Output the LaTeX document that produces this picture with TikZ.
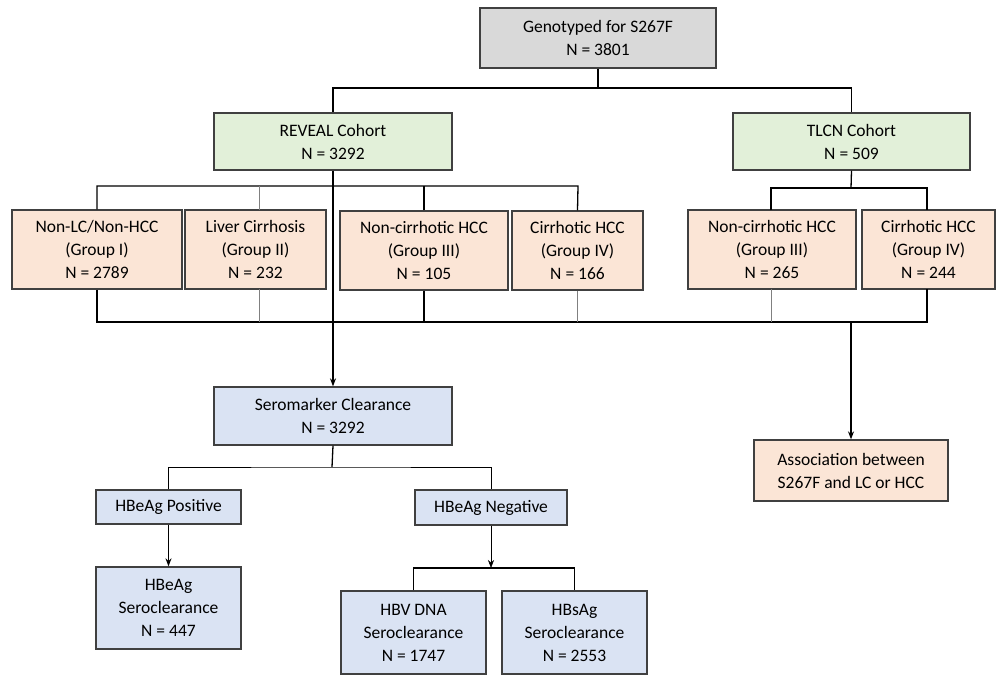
\documentclass[tikz,border=0pt]{standalone}
\usepackage{fontspec}
\setmainfont{Carlito}
\usetikzlibrary{arrows.meta}
\definecolor{cgray}{HTML}{D9D9D9}
\definecolor{cgreen}{HTML}{E2F0D9}
\definecolor{cpink}{HTML}{FBE5D6}
\definecolor{cblue}{HTML}{DAE3F3}
\definecolor{cline}{HTML}{404040}
\begin{document}
\begin{tikzpicture}[x=1pt,y=-1pt,
 box/.style={draw=cline,line width=1.3pt,align=center,inner sep=0pt,font=\fontsize{17.5}{23}\selectfont},
 ln/.style={line width=1.3pt,black},
 thin/.style={line width=0.5pt,gray},
 arr/.style={ln,-{Stealth[length=8pt,width=6pt]}}]
\useasboundingbox (0,0) rectangle (1000,680);
\newcommand\bx[6]{\node[box,fill=#5,minimum width=#3-#1,minimum height=#4-#2] (#6) at ({(#1+#3)/2},{(#2+#4)/2}) {};}
\newcommand\tx[2]{\node[box,draw=none] at (#1) {#2};}
\bx{480}{8}{716}{68}{cgray}{top}\tx{top}{Genotyped for S267F\\N = 3801}
\bx{214}{113}{452}{170}{cgreen}{rev}\tx{rev}{REVEAL Cohort\\N = 3292}
\bx{733}{113}{970}{170}{cgreen}{tlcn}\tx{tlcn}{TLCN Cohort\\N = 509}
\bx{12}{210}{182}{289}{cpink}{g1}\tx{g1}{Non-LC/Non-HCC\\(Group I)\\N = 2789}
\bx{185}{210}{326}{289}{cpink}{g2}\tx{g2}{Liver Cirrhosis\\(Group II)\\N = 232}
\bx{340}{211}{508}{290}{cpink}{g3}\tx{g3}{Non-cirrhotic HCC\\(Group III)\\N = 105}
\bx{512}{211}{643}{290}{cpink}{g4}\tx{g4}{Cirrhotic HCC\\(Group IV)\\N = 166}
\bx{688}{210}{856}{289}{cpink}{t3}\tx{t3}{Non-cirrhotic HCC\\(Group III)\\N = 265}
\bx{862}{210}{995}{289}{cpink}{t4}\tx{t4}{Cirrhotic HCC\\(Group IV)\\N = 244}
\bx{214}{387}{452}{445}{cblue}{sero}\tx{sero}{Seromarker Clearance\\N = 3292}
\bx{754}{440}{948}{501}{cpink}{assoc}\tx{assoc}{Association between\\S267F and LC or HCC}
\bx{96}{490}{241}{524}{cblue}{pos}\tx{pos}{HBeAg Positive}
\bx{415}{490}{567}{525}{cblue}{neg}\tx{neg}{HBeAg Negative}
\bx{96}{567}{241}{649}{cblue}{hbe}\tx{hbe}{HBeAg\\Seroclearance\\N = 447}
\bx{341}{591}{486}{674}{cblue}{dna}\tx{dna}{HBV DNA\\Seroclearance\\N = 1747}
\bx{502}{591}{647}{674}{cblue}{hbs}\tx{hbs}{HBsAg\\Seroclearance\\N = 2553}
\coordinate (tb) at (598,88);
\coordinate (rb) at (332,186);
\coordinate (tlb) at (851,188);
\coordinate (bb) at (851,322);
\coordinate (sb) at (332,467);
\coordinate (nb) at (491,568);
% top
\draw[ln] (top.south) -- (tb) -| (rev.north);
\draw[ln] (tb) -| (tlcn.north);
% REVEAL groups
\draw[ln] (g1.north) -- (97,186) -- (578,186) -- (g4.north);
\draw[thin] (259,210) -- (259,186);
\draw[ln] (g3.north) -- (424,186);
% TLCN groups
\draw[ln] (tlcn.south) -- (tlb);
\draw[ln] (771,210) -- (771,188) -- (927,188) -- (927,210);
% bottom bar
\draw[ln] (g1.south) -- (97,322) -- (927,322) -- (927,289);
\draw[thin] (259,289) -- (259,322);
\draw[ln] (g3.south) -- (424,322);
\draw[thin] (g4.south) -- (577.5,322);
\draw[thin] (771,289) -- (771,322);
\draw[arr] (bb) -- (assoc.north);
\draw[arr] (rev.south) -- (sero.north);
% sero branches
\draw[ln] (sero.south) -- (sb);
\draw[thin,black] (pos.north) |- (sb) -| (neg.north);
\draw[arr] (pos.south) -- (hbe.north);
\draw[thin,black,-{Stealth[length=8pt,width=6pt]}] (neg.south) -- (nb);
\draw[ln] (dna.north) |- (nb) -- (574.5,568);
\draw[thin,black] (574.5,568) -- (hbs.north);
\end{tikzpicture}
\end{document}
